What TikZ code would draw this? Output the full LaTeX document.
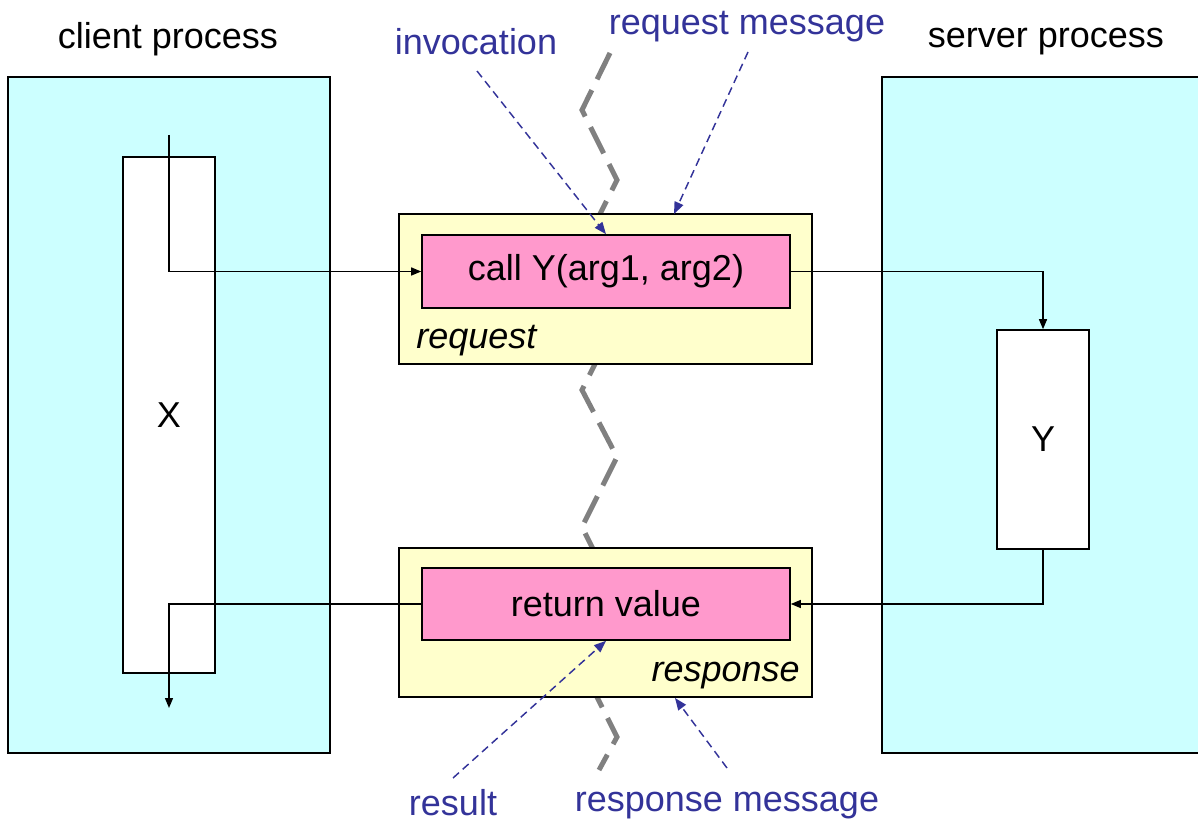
\documentclass[tikz,border=0pt]{standalone}
\usepackage{fontspec}
\setmainfont{Liberation Sans}
\usetikzlibrary{arrows.meta}
\definecolor{procbg}{HTML}{CCFFFF}
\definecolor{msgbg}{HTML}{FFFFCC}
\definecolor{callbg}{HTML}{FF99CC}
\definecolor{notecol}{HTML}{333399}
\definecolor{wavecol}{HTML}{808080}

\begin{document}
\begin{tikzpicture}[x=0.75pt,y=-0.75pt]
 \tikzstyle{every node}=[inner sep=0pt, font=\fontsize{27}{32}\selectfont]
 \tikzstyle{box}=[draw, rectangle, line width=1.2pt]
 \tikzstyle{proc}=[box, fill=procbg, minimum width=241.5pt, minimum height=507pt]
 \tikzstyle{frame}=[box, fill=white, minimum width=69pt]
 \tikzstyle{msg}=[box, fill=msgbg, minimum width=309.75pt, minimum height=112.5pt]
 \tikzstyle{part}=[box, fill=callbg, minimum width=276pt, minimum height=54.75pt]
 \tikzstyle{flow}=[draw, line width=1pt, -{Triangle[length=7.5pt,width=6pt]}]
 \tikzstyle{note}=[draw=notecol, line width=1.1pt, dash pattern=on 6pt off 3.75pt, -{Triangle[length=9pt,width=7pt]}]
 \tikzstyle{wave}=[draw=wavecol, line width=3.75pt, dash pattern=on 22pt off 9pt]
 \useasboundingbox (0,0) rectangle (1198,823);
 % processes
 \node[proc] 	(cp) at (169,415) {};
 \node[proc, minimum width=238.5pt] 	(sp) at (1041,415) {};
 \node[anchor=base] 	(cpl) at (168,49) {client process};
 \node[anchor=base] 	(spl) at (1046,48) {server process};
 \node[frame, minimum height=387pt] 	(X) at (169,415) {X};
 \node[frame, minimum height=164.25pt] 	(Y) at (1043,439.5) {Y};
 % message path
 \draw[wave] (610,53) -- (582,110) -- (617,180) -- (582,250) -- (617,320) -- (582,390)
   -- (617,457) -- (582,527) -- (617,597) -- (582,667) -- (617,737) -- (599,770);
 % messages
 \node[msg] 	(req) at (605.5,289) {};
 \node[part] 	(call) at (606,271.5) {call Y(arg1, arg2)};
 \node[anchor=base west] 	(reql) at (416,348) {\itshape request};
 \node[msg, minimum height=111.75pt] 	(resp) at (605.5,622.5) {};
 \node[part, minimum height=54pt] 	(ret) at (606,604) {return value};
 \node[anchor=base east] 	(respl) at (800,681) {\itshape response};
 % control flow
 \coordinate (ct) at (169,135);
 \coordinate (cb) at (169,708);
  \draw[flow] (ct) |- (call.west);
  \draw[flow] (call.east) -| (Y.north);
  \draw[flow] (Y.south) |- (ret.east);
  \draw[flow] (ret.west) -| (cb);
 % notes
 \node[anchor=base, text=notecol] 	(inv) at (476,55) {invocation};
 \node[anchor=base, text=notecol] 	(rqm) at (747,35) {request message};
 \node[anchor=base, text=notecol] 	(res) at (453,815) {result};
 \node[anchor=base, text=notecol] 	(rsm) at (727,811) {response message};
 \coordinate (invs) at (477,71);
 \coordinate (rqms) at (748,52);
 \coordinate (rqmt) at (674,214);
 \coordinate (ress) at (453,778);
 \coordinate (rsms) at (727,768);
 \coordinate (rsmt) at (675,698);
  \draw[note] (invs) to (call.north);
  \draw[note] (rqms) to (rqmt);
  \draw[note] (ress) to (ret.south);
  \draw[note] (rsms) to (rsmt);
\end{tikzpicture}
\end{document}
